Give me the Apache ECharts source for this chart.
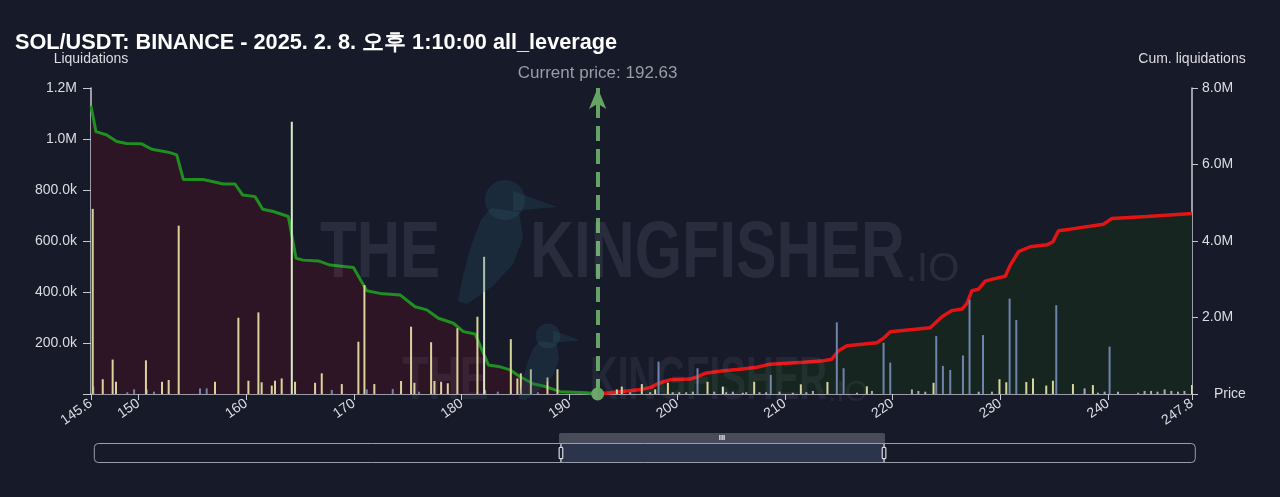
<!DOCTYPE html>
<html>
<head>
<meta charset="utf-8">
<script src="https://cdn.jsdelivr.net/npm/echarts@6/dist/echarts.min.js"></script>
<style>
html,body{margin:0;padding:0;background:#171a29;}
#chart{width:1280px;height:497px;}
</style>
</head>
<body>
<div id="chart"></div>
<script>
const titleText = 'SOL/USDT: BINANCE - 2025. 2. 8. 오후 1:10:00 all_leverage';
const currentPrice = 192.63;
const priceMin = 145.6, priceMax = 247.8;

// Liquidation bars (price, value in k)
const yellowPrices = [145.76,146.69,147.61,147.92,150.70,152.19,152.81,153.74,157.11,159.28,160.21,161.14,161.44,162.38,162.68,163.30,164.54,166.40,167.02,168.88,170.42,170.98,171.90,174.38,175.31,175.62,177.17,177.48,178.10,178.72,179.61,181.47,184.57,185.18,185.50,186.43,187.97,188.90,
  194.41,194.87,196.73,197.97,199.15,202.83,207.16,211.49,213.96,217.62,223.81,229.93,230.56,232.42,233.04,234.27,234.89,236.75,238.60,247.80];
const yellowVals = [726,58,135,48,132,48,55,660,48,299,52,320,46,33,52,61,48,44,81,39,205,427,39,51,264,44,203,51,48,42,258,303,215,61,81,97,65,97,
  18,29,39,18,44,48,48,38,47,30,44,58,46,47,61,33,52,39,35,35];

const bluePrices = [145.81,148.97,149.60,150.77,151.45,155.72,156.34,167.95,171.20,173.61,176.05,182.18,183.36,187.08,
  198.28,201.90,208.70,214.83,215.46,219.17,219.79,224.06,224.68,225.36,226.54,227.15,228.40,230.87,231.49,235.20,240.15];
const blueVals = [30,7,18,18,9,22,22,16,18,20,9,16,9,7,
  127,101,75,281,101,201,123,227,110,94,151,370,231,374,290,348,186];

const grayPrices = [195.65,197.50,199.60,200.20,200.85,201.47,203.45,204.56,205.18,206.11,206.42,207.65,208.27,209.51,210.75,212.00,212.61,216.70,218.09,
  221.80,222.40,223.04,228.00,229.23,237.83,239.07,239.69,240.93,242.80,243.40,244.00,244.60,245.26,245.88,246.50,247.10];
const grayVals = [7,7,7,7,7,9,9,7,9,5,7,7,7,9,5,7,12,5,12,
  18,12,9,9,9,22,5,9,9,5,12,12,9,18,12,9,12];

const paleGreenPrices = [164.24,182.09,204.25];
const paleGreenVals = [1068,538,29];

// Cumulative liquidations (price, value in M)
const cumLeftPrices = [145.6,146.06,147.06,147.99,148.91,150.31,151.24,152.01,152.93,153.56,154.17,156.03,157.88,158.97,159.69,160.83,161.54,162.53,163.92,164.63,165.31,166.71,167.79,169.96,171.20,172.43,174.29,175.68,176.77,177.85,179.24,180.17,181.25,182.49,183.58,184.51,185.43,186.67,187.60,189.15,191.63,192.63];
const cumLeftVals = [7.53,6.86,6.77,6.60,6.55,6.54,6.40,6.36,6.31,6.25,5.61,5.61,5.49,5.49,5.20,5.16,4.83,4.77,4.64,3.55,3.50,3.48,3.37,3.31,2.70,2.63,2.59,2.28,2.20,1.98,1.85,1.63,1.57,0.76,0.71,0.63,0.45,0.26,0.21,0.06,0.03,0];

const cumRightPrices = [192.63,193.79,195.34,196.72,197.64,198.13,198.74,199.36,201.22,201.84,202.61,204.31,205.86,207.41,208.64,209.88,211.74,213.59,214.37,214.99,215.77,218.55,219.17,219.79,223.50,224.59,225.52,226.45,226.91,227.37,227.99,228.61,229.38,230.47,230.93,231.70,232.79,234.34,234.89,235.41,236.50,239.59,240.37,243.62,247.80];
const cumRightVals = [0,0.03,0.08,0.12,0.18,0.26,0.32,0.37,0.39,0.45,0.54,0.61,0.65,0.70,0.78,0.80,0.83,0.87,0.91,1.13,1.26,1.34,1.46,1.63,1.73,2.02,2.18,2.22,2.37,2.70,2.74,2.95,3.01,3.08,3.37,3.72,3.85,3.90,3.98,4.27,4.31,4.44,4.59,4.64,4.72];

const pairs = (xs, ys, mult) => xs.map((x, i) => [x, ys[i] * mult]);

const FONT = "'Liberation Sans', Arial, sans-serif";
const axisColor = '#c8c8d0';
const labelColor = '#dcdce2';

function fmtVal(v) {
  if (v === 0) return '';
  if (v >= 1e6) return (v / 1e6).toFixed(1) + 'M';
  return (v / 1e3).toFixed(1) + 'k';
}

const chart = echarts.init(document.getElementById('chart'));

const barCommon = {
  type: 'bar', xAxisIndex: 0, yAxisIndex: 0, barWidth: 2, barGap: '-100%', z: 4
};

const wmColor = 'rgba(200,210,235,0.10)';
const wmColor2 = 'rgba(200,210,235,0.07)';
const birdColor = 'rgba(40,85,105,0.28)';
const wmFont = (s) => "bold " + s + "px 'Liberation Sans', sans-serif";
// kingfisher silhouette pieces (local coordinates, head centre at 0,0)
const beakPts = [[8,-9],[52,7],[8,11]];
const bodyPts = [[-14,8],[14,12],[18,38],[8,64],[-12,86],[-38,104],[-47,101],[-42,76],[-34,46],[-24,20]];
function bird(x, y, s, z) {
  return [
    { type: 'circle', x: x, y: y, scaleX: s, scaleY: s, z: z, silent: true, shape: { r: 20 }, style: { fill: birdColor } },
    { type: 'polygon', x: x, y: y, scaleX: s, scaleY: s, z: z, silent: true, shape: { points: beakPts }, style: { fill: birdColor } },
    { type: 'polygon', x: x, y: y, scaleX: s, scaleY: s, z: z, silent: true, shape: { points: bodyPts }, style: { fill: birdColor } }
  ];
}

chart.setOption({
  backgroundColor: '#171a29',
  animation: false,
  textStyle: { fontFamily: FONT },
  title: {
    text: titleText, left: 10, top: 27,
    textStyle: { color: '#ffffff', fontSize: 21.7, fontWeight: 'bold', fontFamily: FONT }
  },
  grid: { left: 91, right: 88, top: 88, bottom: 103, containLabel: false },
  xAxis: [{
    type: 'value', min: priceMin, max: priceMax, splitNumber: 10,
    name: 'Price', nameLocation: 'end', nameGap: 22,
    nameTextStyle: { color: labelColor, fontSize: 14, verticalAlign: 'middle' },
    axisLine: { show: true, lineStyle: { color: axisColor, width: 1.5 } },
    axisTick: { show: true, length: 6, lineStyle: { color: axisColor } },
    splitLine: { show: false },
    axisLabel: { color: labelColor, fontSize: 14, rotate: 35, margin: 8, showMinLabel: true, showMaxLabel: true }
  }, {
    type: 'value', show: false, min: 0, max: 100, gridIndex: 0
  }],
  yAxis: [{
    type: 'value', min: 0, max: 1200000, interval: 200000, position: 'left',
    name: 'Liquidations', nameLocation: 'end', nameGap: 22,
    nameTextStyle: { color: labelColor, fontSize: 14, align: 'center' },
    axisLine: { show: true, lineStyle: { color: axisColor, width: 1.5 } },
    axisTick: { show: true, length: 8, lineStyle: { color: axisColor } },
    splitLine: { show: false },
    axisLabel: { color: labelColor, fontSize: 14, margin: 14, formatter: fmtVal }
  }, {
    type: 'value', min: 0, max: 8000000, interval: 2000000, position: 'right',
    name: 'Cum. liquidations', nameLocation: 'end', nameGap: 22,
    nameTextStyle: { color: labelColor, fontSize: 14, align: 'center' },
    axisLine: { show: true, lineStyle: { color: axisColor, width: 1.5 } },
    axisTick: { show: true, length: 6, lineStyle: { color: axisColor } },
    splitLine: { show: false },
    axisLabel: { color: labelColor, fontSize: 14, margin: 10, formatter: fmtVal }
  }],
  dataZoom: [{
    type: 'slider', xAxisIndex: 1, start: 42.3, end: 71.8,
    left: 93, right: 85, top: 443, height: 20,
    showDataShadow: false, showDetail: false,
    borderColor: '#9a9eaa', borderRadius: 4,
    backgroundColor: 'rgba(0,0,0,0)',
    fillerColor: 'rgba(70,85,120,0.45)',
    handleStyle: { color: '#1c2030', borderColor: '#d8dbe4', borderWidth: 1.2 },
    handleSize: '90%',
    moveHandleSize: 9,
    moveHandleStyle: { color: '#4a4e5e', opacity: 1 },
    brushSelect: false
  }],
  graphic: [].concat(bird(505, 200, 1, 9), bird(548, 336, 0.62, 9), [
    { type: 'text', x: 320, y: 255, scaleX: 0.75, z: 10, silent: true,
      style: { text: 'THE', fill: wmColor, font: wmFont(80), textVerticalAlign: 'middle', textAlign: 'left' } },
    { type: 'text', x: 530, y: 255, scaleX: 0.76, z: 10, silent: true,
      style: { text: 'KINGFISHER', fill: wmColor, font: wmFont(80), textVerticalAlign: 'middle', textAlign: 'left' } },
    { type: 'text', x: 906, y: 290, z: 10, silent: true,
      style: { text: '.IO', fill: wmColor, font: "300 40px 'Liberation Sans', sans-serif", textVerticalAlign: 'bottom', textAlign: 'left' } },
    { type: 'text', x: 402, y: 382, scaleX: 0.7, z: 10, silent: true,
      style: { text: 'THE', fill: wmColor2, font: wmFont(62), textVerticalAlign: 'middle', textAlign: 'left' } },
    { type: 'text', x: 590, y: 382, scaleX: 0.62, z: 10, silent: true,
      style: { text: 'KINGFISHER', fill: wmColor2, font: wmFont(62), textVerticalAlign: 'middle', textAlign: 'left' } },
    { type: 'text', x: 828, y: 408, z: 10, silent: true,
      style: { text: '.IO', fill: wmColor2, font: "300 30px 'Liberation Sans', sans-serif", textVerticalAlign: 'bottom', textAlign: 'left' } },
    { type: 'rect', x: 559, y: 433, z: 20, silent: true, shape: { width: 326, height: 10, r: [2, 2, 0, 0] }, style: { fill: '#474b5a' } },
    { type: 'text', x: 722, y: 438, z: 21, silent: true,
      style: { text: 'III', fill: '#e8e8ee', font: "bold 8px 'Liberation Sans', sans-serif", textAlign: 'center', textVerticalAlign: 'middle' } }
  ]),
  series: [
    {
      name: 'Cum long', type: 'line', xAxisIndex: 0, yAxisIndex: 1, z: 2,
      data: pairs(cumLeftPrices, cumLeftVals, 1e6),
      showSymbol: false, symbol: 'none',
      lineStyle: { color: '#1f8f1f', width: 3 },
      areaStyle: { color: '#2e1526', opacity: 1 }
    },
    {
      name: 'Cum short', type: 'line', xAxisIndex: 0, yAxisIndex: 1, z: 2,
      data: pairs(cumRightPrices, cumRightVals, 1e6),
      showSymbol: false, symbol: 'none',
      lineStyle: { color: '#e31414', width: 3.5 },
      areaStyle: { color: '#172520', opacity: 1 },
      markLine: {
        silent: true, z: 6,
        symbol: ['circle', 'arrow'], symbolSize: [13, 21],
        lineStyle: { color: '#66a466', type: [15, 8], width: 4, opacity: 1 },
        label: { show: true, position: 'end', formatter: 'Current price: ' + currentPrice, color: '#9a9ca6', fontSize: 17, distance: 6 },
        data: [{ xAxis: currentPrice }]
      }
    },
    Object.assign({}, barCommon, { name: 'gray', data: pairs(grayPrices, grayVals, 1e3), itemStyle: { color: '#a7abba' } }),
    Object.assign({}, barCommon, { name: 'blue', data: pairs(bluePrices, blueVals, 1e3), itemStyle: { color: '#6f83ad' } }),
    Object.assign({}, barCommon, { name: 'yellow', data: pairs(yellowPrices, yellowVals, 1e3), itemStyle: { color: '#d9d49a' } }),
    Object.assign({}, barCommon, { name: 'pale', data: pairs(paleGreenPrices, paleGreenVals, 1e3), itemStyle: { color: '#d6ecc6' } }),
    { type: 'scatter', xAxisIndex: 1, yAxisIndex: 0, data: [], silent: true }
  ]
});
</script>
</body>
</html>
